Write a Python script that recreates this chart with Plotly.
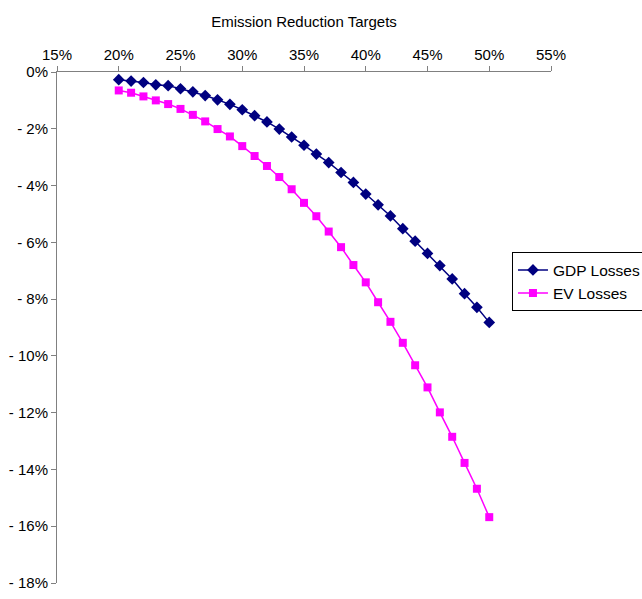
import plotly.graph_objects as go

# Emission reduction targets (%)
targets = [20, 21, 22, 23, 24, 25, 26, 27, 28, 29, 30, 31, 32, 33, 34, 35,
           36, 37, 38, 39, 40, 41, 42, 43, 44, 45, 46, 47, 48, 49, 50]

# GDP losses (%)
gdp_losses = [-0.27, -0.32, -0.37, -0.45, -0.48, -0.59, -0.70, -0.83, -0.98, -1.14,
              -1.33, -1.54, -1.76, -2.01, -2.29, -2.58, -2.89, -3.19, -3.54, -3.89,
              -4.30, -4.68, -5.07, -5.52, -5.96, -6.39, -6.82, -7.29, -7.81, -8.29,
              -8.82]

# EV losses (%)
ev_losses = [-0.65, -0.73, -0.86, -1.00, -1.13, -1.30, -1.51, -1.74, -2.01, -2.27,
             -2.61, -2.96, -3.31, -3.70, -4.13, -4.61, -5.08, -5.62, -6.17, -6.80,
             -7.41, -8.11, -8.80, -9.54, -10.33, -11.11, -11.99, -12.85, -13.77, -14.68,
             -15.68]

x_ticks = [15, 20, 25, 30, 35, 40, 45, 50, 55]
x_tick_labels = ["15%", "20%", "25%", "30%", "35%", "40%", "45%", "50%", "55%"]
y_ticks = [0, -2, -4, -6, -8, -10, -12, -14, -16, -18]
y_tick_labels = ["0%", "- 2%", "- 4%", "- 6%", "- 8%", "- 10%", "- 12%", "- 14%", "- 16%", "- 18%"]

font_family = "Liberation Sans, Arial, sans-serif"

fig = go.Figure()
fig.add_trace(go.Scatter(
    x=targets, y=gdp_losses, name="GDP Losses", mode="lines+markers",
    line=dict(color="#000080", width=1.5),
    marker=dict(symbol="diamond", size=9, color="#000080"),
))
fig.add_trace(go.Scatter(
    x=targets, y=ev_losses, name="EV Losses", mode="lines+markers",
    line=dict(color="#FF00FF", width=1.5),
    marker=dict(symbol="square", size=8, color="#FF00FF"),
))

fig.update_layout(
    width=642, height=599,
    margin=dict(l=57, r=91, t=72, b=16, autoexpand=False),
    paper_bgcolor="white", plot_bgcolor="white",
    font=dict(family=font_family, size=15, color="black"),
    showlegend=True,
    legend=dict(
        x=0.921, y=0.647, xanchor="left", yanchor="top",
        bordercolor="black", borderwidth=1, bgcolor="white",
        font=dict(size=15.5), tracegroupgap=0,
    ),
    xaxis=dict(
        side="top", range=[15, 55], tickvals=x_ticks, ticktext=x_tick_labels,
        showgrid=False, zeroline=False, showline=True, linecolor="#808080", linewidth=1,
        ticks="outside", ticklen=5, tickcolor="#808080",
        title=dict(text="Emission Reduction Targets", font=dict(size=15), standoff=14),
    ),
    yaxis=dict(
        range=[-18, 0], tickvals=y_ticks, ticktext=y_tick_labels,
        showgrid=False, zeroline=False, showline=True, linecolor="#808080", linewidth=1,
        ticks="outside", ticklen=5, tickcolor="#808080",
    ),
)

fig.write_html("out.html")
